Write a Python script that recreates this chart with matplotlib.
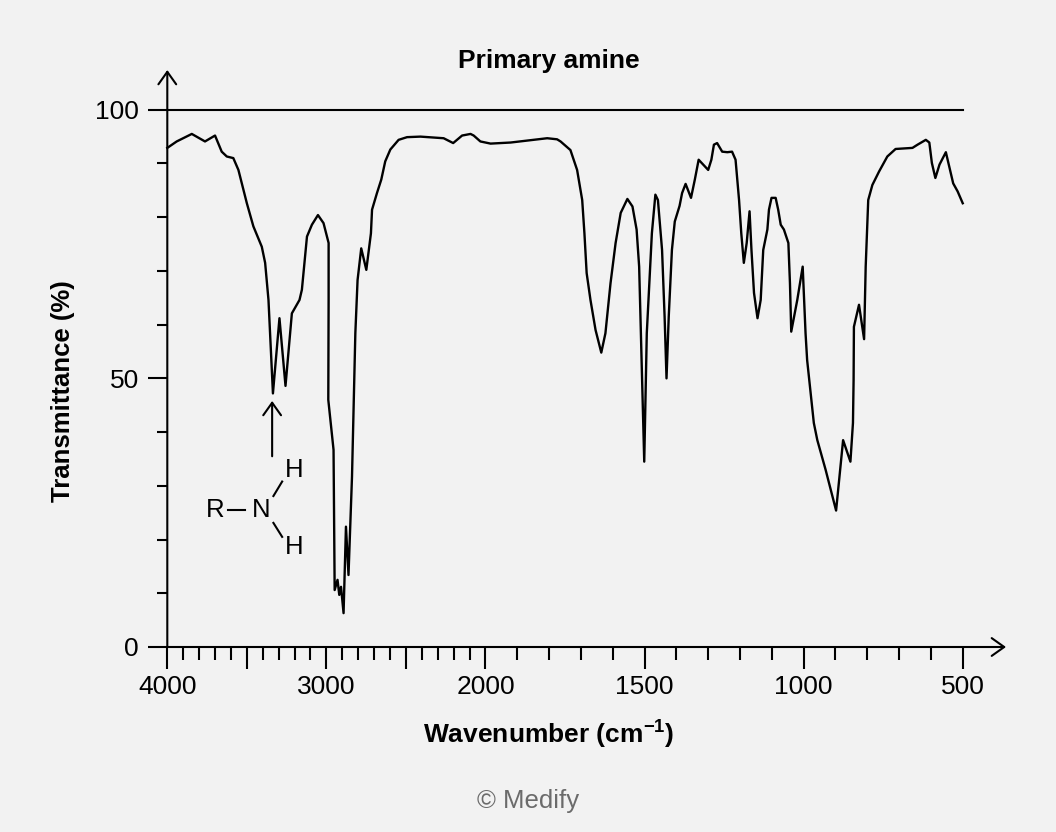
import numpy as np
import matplotlib
matplotlib.use("Agg")
import matplotlib.pyplot as plt

plt.rcParams['font.family'] = ['Liberation Sans', 'DejaVu Sans']
plt.rcParams['mathtext.fontset'] = 'custom'
plt.rcParams['mathtext.rm'] = 'Liberation Sans'
plt.rcParams['mathtext.bf'] = 'Liberation Sans:bold'

# ---- data ----
wavenumber = [4000, 3941, 3846, 3763, 3700, 3658, 3626, 3585, 3553, 3500,
              3459, 3406, 3385, 3364, 3336, 3295, 3257, 3217, 3169, 3154,
              3122, 3091, 3053, 3018, 2986, 2986, 2988, 2955, 2948, 2930,
              2919, 2908, 2892, 2877, 2861, 2839, 2818, 2804, 2781, 2749,
              2720, 2713, 2682, 2655, 2630, 2598, 2546, 2493, 2409, 2263,
              2203, 2147, 2094, 2074, 2032, 1984, 1921, 1806, 1775, 1764,
              1733, 1712, 1696, 1689, 1682, 1670, 1654, 1636, 1623, 1607,
              1591, 1575, 1554, 1538, 1525, 1517, 1501, 1493, 1477, 1466,
              1458, 1445, 1437, 1431, 1424, 1414, 1405, 1390, 1382, 1371,
              1354, 1342, 1330, 1300, 1290, 1282, 1272, 1256, 1240, 1225,
              1214, 1203, 1196, 1188, 1179, 1170, 1164, 1156, 1145, 1135,
              1127, 1114, 1109, 1101, 1088, 1080, 1072, 1062, 1048, 1043,
              1039, 1020, 1003, 994, 989, 978, 968, 957, 931, 898,
              876, 853, 845, 843, 842, 826, 810, 805, 797, 784,
              763, 737, 711, 658, 642, 616, 605, 597, 586, 573,
              553, 530, 516, 500]
transmittance = [92.9, 94.1, 95.5, 94.1, 95.2, 92.2, 91.3, 91.0, 88.8, 82.6,
                 78.3, 74.5, 71.5, 64.6, 47.2, 61.2, 48.6, 62.1, 64.6, 66.5,
                 76.4, 78.6, 80.4, 78.9, 75.2, 64.6, 46.0, 36.7, 10.6, 12.5,
                 9.7, 11.2, 6.3, 22.4, 13.4, 31.7, 58.4, 68.3, 74.2, 70.2,
                 77.0, 81.4, 84.5, 87.0, 90.4, 92.6, 94.4, 94.9, 95.0, 94.7,
                 93.8, 95.2, 95.5, 95.2, 94.1, 93.7, 93.9, 94.7, 94.5, 94.1,
                 92.5, 88.8, 83.2, 77.0, 69.6, 64.6, 59.0, 54.8, 58.4, 67.7,
                 75.2, 80.8, 83.4, 82.0, 77.7, 70.8, 34.5, 58.4, 77.0, 84.2,
                 83.2, 73.9, 61.5, 50.0, 61.5, 73.9, 79.2, 82.1, 84.5, 86.2,
                 83.6, 87.0, 90.7, 88.8, 90.7, 93.5, 93.8, 92.2, 92.1, 92.2,
                 90.7, 83.2, 77.0, 71.5, 75.2, 81.1, 73.9, 65.9, 61.2, 64.6,
                 73.9, 77.7, 81.4, 83.6, 83.6, 81.4, 78.6, 77.7, 75.2, 67.7,
                 58.7, 64.6, 70.8, 58.4, 53.4, 47.2, 41.7, 38.5, 33.0, 25.4,
                 38.5, 34.5, 41.7, 49.7, 59.6, 63.7, 57.3, 70.8, 83.2, 86.0,
                 88.5, 91.3, 92.7, 92.9, 93.5, 94.4, 93.9, 90.1, 87.3, 89.8,
                 92.1, 86.3, 84.8, 82.6]

x_major = [4000, 3500, 3000, 2500, 2000, 1500, 1000, 500]
x_major_labels = ['4000', '', '3000', '', '2000', '1500', '1000', '500']
x_minor = [w for w in range(4000, 499, -100) if w not in x_major]
y_major = [0, 50, 100]
y_major_labels = ['0', '50', '100']
y_minor = [10, 20, 30, 40, 60, 70, 80, 90]

title = 'Primary amine'
xlabel = r'Wavenumber (cm$^{\mathbf{-1}}$)'
ylabel = 'Transmittance (%)'
credit = '\u00a9 Medify'

# ---- figure ----
BG = '#f2f2f2'
fig = plt.figure(figsize=(10.56, 8.32), dpi=100, facecolor=BG)
ax = fig.add_axes([167.3 / 1056, 1 - 647 / 832, (1006 - 167.3) / 1056, (647 - 70) / 832])
ax.set_facecolor(BG)


def fwd(w):
    w = np.asarray(w, dtype=float)
    return np.where(w >= 2000, (w - 2000) / 2 + 1500, w - 500)


def inv(u):
    u = np.asarray(u, dtype=float)
    return np.where(u >= 1500, (u - 1500) * 2 + 2000, u + 500)


ax.set_xscale('function', functions=(fwd, inv))
ax.set_xlim(4000, 364)
ax.set_ylim(0, 107.4)

ax.plot(wavenumber, transmittance, color='black', lw=1.7,
        solid_joinstyle='round', clip_on=False)
ax.plot([4000, 500], [100, 100], color='black', lw=1.5)

for s in ax.spines.values():
    s.set_visible(False)

# axis lines with arrow heads
arrow_kw = dict(arrowstyle='->,head_length=0.45,head_width=0.32', lw=1.5,
                color='black', shrinkA=0, shrinkB=0, mutation_scale=20)
ax.annotate('', xy=(1, 0), xytext=(0, 0), xycoords='axes fraction',
            textcoords='axes fraction', arrowprops=arrow_kw, annotation_clip=False)
ax.annotate('', xy=(0, 1), xytext=(0, 0), xycoords='axes fraction',
            textcoords='axes fraction', arrowprops=arrow_kw, annotation_clip=False)

ax.set_xticks(x_major)
ax.set_xticklabels(x_major_labels)
ax.set_xticks(x_minor, minor=True)
ax.set_yticks(y_major)
ax.set_yticklabels(y_major_labels)
ax.set_yticks(y_minor, minor=True)
ax.tick_params(axis='x', which='major', length=16, width=1.5, pad=4,
               labelsize=19, direction='out')
ax.tick_params(axis='x', which='minor', length=9, width=1.5, direction='out')
ax.tick_params(axis='y', which='major', length=14, width=1.5, pad=6.5,
               labelsize=19, direction='out')
ax.tick_params(axis='y', which='minor', length=7, width=1.5, direction='out')

# N-H stretch annotation
ax.annotate('', xy=(3341, 45.8), xytext=(3341, 35.5),
            arrowprops=dict(arrowstyle='->,head_length=0.45,head_width=0.32',
                            lw=1.5, color='black', shrinkA=0, shrinkB=0,
                            mutation_scale=20))
txt_kw = dict(fontsize=18.5, ha='center', va='center', color='black')
ax.text(3700, 25.5, 'R', **txt_kw)
ax.text(3407, 25.5, 'N', **txt_kw)
ax.text(3202, 33.0, 'H', **txt_kw)
ax.text(3202, 18.7, 'H', **txt_kw)
ax.plot([3616, 3511], [25.5, 25.5], color='black', lw=1.5)
ax.plot([3333, 3278], [28.1, 30.8], color='black', lw=1.5)
ax.plot([3333, 3278], [23.1, 20.5], color='black', lw=1.5)

# texts
fig.text(549.2 / 1056, 1 - 68.3 / 832, title, ha='center', va='baseline',
         fontsize=19, fontweight='bold')
fig.text(549.2 / 1056, 1 - 742.3 / 832, xlabel, ha='center', va='baseline',
         fontsize=19, fontweight='bold')
fig.text(63 / 1056, 1 - 391 / 832, ylabel, ha='center', va='center',
         rotation=90, fontsize=18.5, fontweight='bold')
fig.text(0.5, 1 - 808.3 / 832, credit, ha='center', va='baseline',
         fontsize=18.5, color='#6b6b6b')

fig.savefig('out.png', dpi=100, facecolor=BG)
